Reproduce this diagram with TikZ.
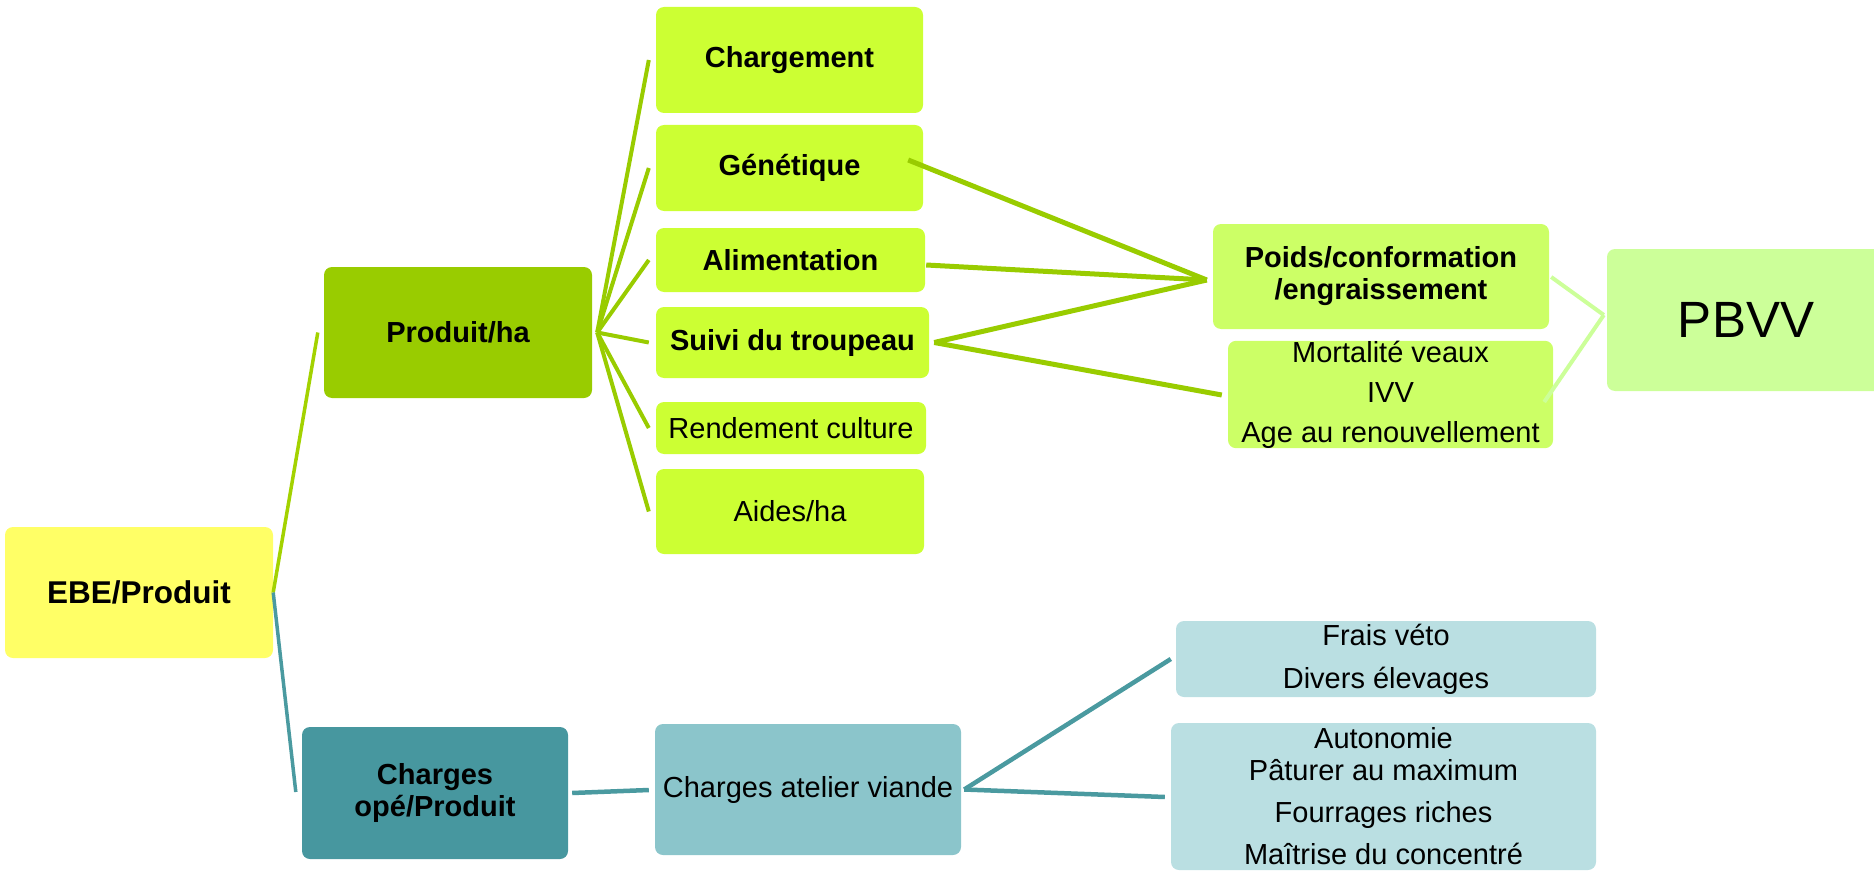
\documentclass[tikz,border=0pt]{standalone}
\usepackage{fontspec}
\setmainfont{Liberation Sans}
\usetikzlibrary{calc}
\definecolor{cEBE}{HTML}{FFFF66}
\definecolor{cProd}{HTML}{99CC00}
\definecolor{cLvl}{HTML}{CCFF33}
\definecolor{cPoids}{HTML}{CCFF66}
\definecolor{cPBVV}{HTML}{CCFF99}
\definecolor{cCharg}{HTML}{47979F}
\definecolor{cCav}{HTML}{8BC5CB}
\definecolor{cFrais}{HTML}{BADFE2}
\definecolor{cEbeLine}{HTML}{A3D200}
\definecolor{cTeal}{HTML}{4A9AA0}
\begin{document}
\begin{tikzpicture}[x=1pt,y=-1pt,
  bx/.style={rounded corners=8pt, inner sep=0pt, align=center, font=\fontsize{29}{32}\selectfont},
  bbx/.style={bx, font=\fontsize{29}{32}\selectfont\bfseries},
  greenline/.style={draw=cProd, line width=4pt},
  ebeline/.style={draw=cEbeLine, line width=3.5pt},
  tealline/.style={draw=cTeal, line width=4.5pt},
  paleline/.style={draw=cPBVV, line width=4pt}]
\useasboundingbox (0,0) rectangle (1874,872);

% level 0
\node[bbx, fill=cEBE, minimum width=268pt, minimum height=131pt, font=\fontsize{31.5}{34}\selectfont\bfseries] (ebe) at (139,592.5) {EBE/Produit};
% level 1
\node[bbx, fill=cProd, minimum width=268pt, minimum height=131pt] (prod) at (458,332.5) {Produit/ha};
\node[bbx, fill=cCharg, minimum width=266pt, minimum height=132pt] (charg) at (435,793) {Charges\\opé/Produit};
% level 2 (green)
\node[bbx, fill=cLvl, minimum width=267pt, minimum height=106pt] (chargement) at (789.5,60) {Chargement};
\node[bbx, fill=cLvl, minimum width=267pt, minimum height=86pt] (gen) at (789.5,168) {Génétique};
\node[bbx, fill=cLvl, minimum width=269pt, minimum height=64pt] (alim) at (790.5,260) {Alimentation};
\node[bbx, fill=cLvl, minimum width=273pt, minimum height=71pt] (suivi) at (792.5,342.5) {Suivi du troupeau};
\node[bx, fill=cLvl, minimum width=270pt, minimum height=52pt] (rend) at (791,428) {Rendement culture};
\node[bx, fill=cLvl, minimum width=268pt, minimum height=85pt] (aides) at (790,511.5) {Aides/ha};
% level 3 (green)
\node[bbx, fill=cPoids, minimum width=336pt, minimum height=105pt] (poids) at (1381,276.5) {Poids/conformation\\/engraissement};
\node[bx, fill=cPoids, minimum width=325pt, minimum height=99pt] (mort) at (1390.5,394.5) {Mortalité veaux\\[8pt]IVV\\[8pt]Age au renouvellement};
\node[bx, fill=cPBVV, minimum width=278pt, minimum height=142pt, font=\fontsize{51}{55}\selectfont] (pbvv) at (1746,320) {PBVV};
% level 2/3 (teal)
\node[bx, fill=cCav, minimum width=306pt, minimum height=131pt] (cav) at (808,789.5) {Charges atelier viande};
\node[bx, fill=cFrais, minimum width=420pt, minimum height=76pt] (frais) at (1386,659) {Frais véto\\[11pt]Divers élevages};
\node[bx, fill=cFrais, minimum width=425pt, minimum height=147pt] (auto) at (1383.5,796.5) {Autonomie\\Pâturer au maximum\\[10pt]Fourrages riches\\[10pt]Maîtrise du concentré};

% connectors
\draw[ebeline] (ebe.east) -- ($(prod.west)+(-6,0)$);
\draw[tealline, line width=3.5pt] (ebe.east) -- ($(charg.west)+(-6,-1)$);
\foreach \t in {chargement,gen,alim,suivi,rend,aides}
  \draw[greenline] ($(prod.east)+(5,0)$) -- ($(\t.west)+(-7,0)$);
\draw[greenline, line width=5pt] ($(gen.east)+(-15,-8)$) -- ($(poids.west)+(-6,3.5)$);
\draw[greenline, line width=5pt] ($(alim.east)+(1,5)$) -- ($(poids.west)+(-6,3.5)$);
\draw[greenline, line width=5pt] ($(suivi.east)+(5,0)$) -- ($(poids.west)+(-6,3.5)$);
\draw[greenline, line width=5pt] ($(suivi.east)+(5,0)$) -- ($(mort.west)+(-6,0.5)$);
\draw[paleline] ($(poids.east)+(2,0.5)$) -- ($(pbvv.west)+(-3,-5)$);
\draw[paleline] ($(mort.east)+(-9,7.5)$) -- ($(pbvv.west)+(-3,-5)$);
\draw[tealline] ($(charg.east)+(4,0)$) -- ($(cav.west)+(-6,0.5)$);
\draw[tealline] ($(cav.east)+(3,0)$) -- ($(frais.west)+(-5,0)$);
\draw[tealline] ($(cav.east)+(3,0)$) -- ($(auto.west)+(-6,0.5)$);
\end{tikzpicture}
\end{document}
